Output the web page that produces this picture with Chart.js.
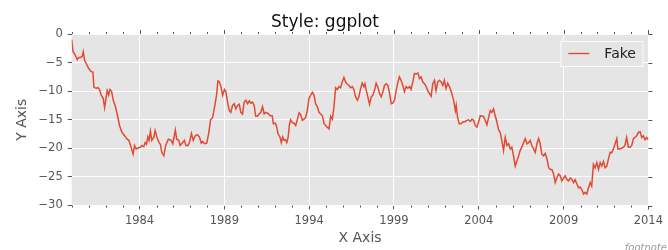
<!DOCTYPE html>
<html><head><meta charset="utf-8">
<script src="https://cdn.jsdelivr.net/npm/chart.js@4"></script>
<style>html,body{margin:0;padding:0;background:#fff;}#wrap{width:668px;height:250px;}</style>
</head><body><div id="wrap"><canvas id="c" width="668" height="250"></canvas></div>
<script>
const titleText = 'Style: ggplot';
const xTitle = 'X Axis';
const yTitle = 'Y Axis';
const footnoteText = 'footnote';
const seriesName = 'Fake';
const xTickYears = [1984, 1989, 1994, 1999, 2004, 2009, 2014];
const yTicks = [0, -5, -10, -15, -20, -25, -30];

const years = [
1980.00,1980.08,1980.21,1980.33,1980.41,1980.53,1980.62,1980.68,1980.76,1980.86,
1981.00,1981.12,1981.25,1981.31,1981.43,1981.55,1981.65,1981.74,1981.86,1981.94,
1982.02,1982.09,1982.18,1982.25,1982.35,1982.45,1982.56,1982.68,1982.82,1982.96,
1983.12,1983.27,1983.37,1983.47,1983.56,1983.62,1983.70,1983.80,1983.94,1984.06,
1984.13,1984.25,1984.33,1984.41,1984.49,1984.56,1984.64,1984.72,1984.84,1984.92,
1985.03,1985.15,1985.23,1985.31,1985.43,1985.54,1985.70,1985.86,1985.96,1986.11,
1986.19,1986.31,1986.39,1986.48,1986.64,1986.74,1986.86,1986.94,1987.06,1987.17,
1987.29,1987.41,1987.53,1987.64,1987.72,1987.84,1987.96,1988.07,1988.19,1988.31,
1988.42,1988.54,1988.62,1988.70,1988.80,1988.90,1989.01,1989.09,1989.19,1989.29,
1989.38,1989.48,1989.58,1989.68,1989.78,1989.88,1989.97,1990.07,1990.17,1990.27,
1990.37,1990.47,1990.56,1990.66,1990.76,1990.85,1990.95,1991.05,1991.15,1991.25,
1991.35,1991.44,1991.58,1991.70,1991.82,1991.89,1992.01,1992.09,1992.17,1992.29,
1992.36,1992.44,1992.52,1992.60,1992.68,1992.76,1992.84,1992.91,1993.01,1993.11,
1993.21,1993.31,1993.41,1993.50,1993.60,1993.70,1993.79,1993.89,1993.99,1994.09,
1994.19,1994.29,1994.38,1994.48,1994.58,1994.68,1994.78,1994.88,1994.97,1995.07,
1995.17,1995.27,1995.37,1995.46,1995.56,1995.66,1995.76,1995.85,1995.95,1996.05,
1996.15,1996.25,1996.35,1996.45,1996.54,1996.64,1996.74,1996.84,1996.93,1997.03,
1997.13,1997.23,1997.29,1997.37,1997.46,1997.56,1997.66,1997.76,1997.85,1997.95,
1998.05,1998.15,1998.25,1998.35,1998.44,1998.54,1998.64,1998.74,1998.84,1998.93,
1999.03,1999.13,1999.23,1999.32,1999.42,1999.52,1999.62,1999.72,1999.82,1999.92,
2000.01,2000.11,2000.21,2000.31,2000.41,2000.50,2000.60,2000.70,2000.80,2000.90,
2000.99,2001.09,2001.19,2001.29,2001.39,2001.48,2001.58,2001.68,2001.78,2001.88,
2001.97,2002.07,2002.17,2002.27,2002.38,2002.52,2002.62,2002.67,2002.75,2002.85,
2002.95,2003.07,2003.20,2003.30,2003.40,2003.50,2003.60,2003.70,2003.79,2003.89,
2003.99,2004.09,2004.19,2004.28,2004.38,2004.48,2004.58,2004.68,2004.77,2004.87,
2004.97,2005.07,2005.17,2005.26,2005.36,2005.46,2005.56,2005.66,2005.76,2005.86,
2005.95,2006.05,2006.15,2006.25,2006.35,2006.44,2006.54,2006.64,2006.74,2006.84,
2006.94,2007.03,2007.13,2007.23,2007.33,2007.43,2007.53,2007.62,2007.72,2007.82,
2007.92,2008.02,2008.12,2008.21,2008.31,2008.41,2008.51,2008.60,2008.70,2008.80,
2008.90,2009.00,2009.09,2009.19,2009.29,2009.39,2009.49,2009.59,2009.68,2009.78,
2009.88,2009.98,2010.08,2010.18,2010.27,2010.37,2010.47,2010.57,2010.66,2010.76,
2010.86,2010.96,2011.06,2011.16,2011.25,2011.35,2011.45,2011.55,2011.65,2011.75,
2011.84,2011.94,2012.04,2012.14,2012.20,2012.30,2012.43,2012.53,2012.62,2012.72,
2012.82,2012.92,2013.02,2013.12,2013.21,2013.31,2013.41,2013.51,2013.61,2013.71,
2013.80,2013.90,2014.00
];

const values = [
-1.0,-3.1,-3.7,-4.5,-4.1,-4.1,-3.9,-3.1,-4.6,-5.2,
-6.0,-6.5,-6.7,-9.3,-9.5,-9.4,-9.8,-10.7,-11.3,-12.9,
-11.3,-9.9,-10.7,-9.7,-10.0,-11.6,-12.5,-14.0,-16.0,-17.2,
-17.8,-18.4,-18.6,-19.5,-20.4,-21.0,-19.5,-20.1,-19.9,-19.8,
-19.5,-19.7,-19.0,-19.3,-18.0,-18.6,-17.0,-18.6,-18.1,-16.9,
-18.1,-19.0,-19.3,-20.7,-21.3,-19.5,-18.4,-18.6,-19.2,-16.8,
-18.4,-18.6,-19.5,-19.2,-18.6,-19.5,-19.5,-19.0,-17.4,-18.6,
-17.8,-17.6,-18.0,-19.1,-18.8,-19.2,-19.1,-17.5,-15.0,-14.6,
-12.8,-10.7,-8.2,-8.3,-9.2,-10.7,-9.7,-10.1,-11.9,-13.4,
-13.7,-12.5,-12.2,-13.1,-12.5,-12.3,-13.7,-14.0,-11.9,-11.6,
-12.2,-11.7,-12.1,-11.9,-12.5,-14.4,-14.4,-14.0,-13.7,-12.7,
-14.0,-13.7,-13.9,-14.3,-14.3,-15.7,-15.6,-16.3,-17.5,-18.1,
-19.0,-18.0,-18.6,-18.5,-19.0,-18.1,-15.8,-15.0,-15.5,-15.6,
-16.0,-14.9,-13.8,-14.1,-15.1,-14.9,-14.6,-13.4,-11.3,-10.7,
-10.2,-10.7,-12.2,-12.7,-13.7,-14.0,-14.3,-15.7,-16.0,-16.3,
-16.6,-14.4,-14.9,-12.8,-9.4,-9.7,-9.2,-9.4,-8.4,-7.6,
-8.4,-8.8,-9.0,-9.4,-9.2,-9.7,-11.0,-11.6,-11.0,-9.6,
-8.6,-9.2,-8.7,-9.9,-11.0,-12.3,-11.0,-10.7,-9.9,-8.6,
-9.3,-10.4,-11.0,-10.1,-9.0,-8.7,-9.0,-10.4,-12.2,-12.1,
-11.6,-9.9,-8.5,-7.5,-8.1,-9.0,-10.1,-9.2,-9.5,-9.2,
-9.7,-8.4,-6.9,-7.0,-6.8,-7.8,-7.5,-8.4,-8.7,-9.2,
-9.9,-10.4,-10.9,-8.7,-8.1,-9.9,-8.4,-8.1,-8.4,-9.0,
-8.1,-9.5,-8.6,-9.2,-10.1,-11.6,-13.4,-12.5,-14.6,-15.7,
-15.7,-15.4,-15.3,-15.1,-15.0,-15.3,-14.9,-15.1,-16.0,-16.3,
-15.4,-14.3,-14.4,-14.4,-15.1,-15.9,-14.6,-13.4,-13.7,-13.1,
-14.3,-15.4,-16.8,-17.2,-18.6,-20.4,-18.1,-19.5,-19.2,-20.1,
-19.8,-21.3,-23.1,-22.2,-21.3,-20.4,-19.8,-19.0,-18.3,-19.2,
-19.0,-18.6,-19.5,-20.1,-20.7,-19.2,-18.3,-19.2,-21.0,-21.3,
-20.9,-21.8,-23.4,-23.7,-23.7,-24.5,-26.0,-25.2,-24.5,-24.8,
-25.7,-25.2,-24.8,-25.4,-25.7,-25.2,-25.4,-26.0,-25.5,-26.2,
-26.9,-26.8,-27.2,-28.0,-27.7,-28.0,-26.9,-26.0,-26.6,-22.8,
-23.4,-22.5,-23.7,-22.5,-23.1,-22.3,-23.4,-23.1,-21.8,-20.7,
-20.8,-20.1,-19.2,-18.3,-20.1,-20.1,-20.0,-19.8,-19.5,-18.1,
-19.8,-19.8,-19.5,-18.3,-18.1,-17.8,-17.2,-17.1,-18.1,-17.8,
-18.5,-18.1,-18.5
];

const LINE_COLOR = '#E24A33';
const PANEL = '#E5E5E5';
const TEXT_GRAY = '#555555';
const FONT = "'DejaVu Sans', sans-serif";
Chart.defaults.font.family = FONT;

const n = Math.min(years.length, values.length);
const points = [];
for (let i = 0; i < n; i++) points.push({x: years[i], y: values[i]});

const fmtMinus = v => String(v).replace('-', '\u2212');

const panelPlugin = {
  id: 'panel',
  beforeDraw(chart) {
    const {ctx, chartArea: a} = chart;
    ctx.save();
    ctx.fillStyle = '#ffffff';
    ctx.fillRect(0, 0, chart.width, chart.height);
    ctx.fillStyle = PANEL;
    ctx.fillRect(a.left, a.top, a.right - a.left, a.bottom - a.top);
    ctx.restore();
  }
};

const extraTicksPlugin = {
  id: 'extraTicks',
  afterDraw(chart) {
    const {ctx, chartArea: a, scales: {x, y}} = chart;
    ctx.save();
    ctx.strokeStyle = TEXT_GRAY;
    ctx.lineWidth = 1;
    ctx.beginPath();
    for (let yr = Math.ceil(x.min); yr <= x.max; yr++) {
      const px = Math.round(x.getPixelForValue(yr)) + 0.5;
      const major = xTickYears.includes(yr);
      const len = major ? 4 : 2;
      ctx.moveTo(px, a.top); ctx.lineTo(px, a.top - len);
      if (!major) { ctx.moveTo(px, a.bottom); ctx.lineTo(px, a.bottom + len); }
    }
    yTicks.forEach(v => {
      const py = Math.round(y.getPixelForValue(v)) + 0.5;
      ctx.moveTo(a.right, py); ctx.lineTo(a.right + 4, py);
    });
    ctx.stroke();
    ctx.restore();
  }
};

const legendBoxPlugin = {
  id: 'legendBox',
  afterDraw(chart) {
    const {ctx, chartArea: a} = chart;
    const ds = chart.data.datasets[0];
    const w = 83, h = 26;
    const bx = a.right - 5 - w, by = a.top + 7;
    ctx.save();
    ctx.fillStyle = PANEL;
    ctx.fillRect(bx, by, w, h);
    ctx.strokeStyle = 'rgba(255,255,255,0.85)';
    ctx.lineWidth = 1;
    ctx.strokeRect(bx + 0.5, by + 0.5, w - 1, h - 1);
    const cy = by + h / 2 - 0.5;
    ctx.strokeStyle = ds.borderColor;
    ctx.lineWidth = 1.4;
    ctx.beginPath();
    ctx.moveTo(bx + 8, cy); ctx.lineTo(bx + 29, cy);
    ctx.stroke();
    ctx.fillStyle = '#222222';
    ctx.font = '14px ' + FONT;
    ctx.textBaseline = 'middle';
    ctx.textAlign = 'left';
    ctx.fillText(ds.label, bx + 44, cy + 0.5);
    ctx.restore();
  }
};

const footnotePlugin = {
  id: 'footnote',
  afterDraw(chart) {
    const {ctx} = chart;
    ctx.save();
    ctx.fillStyle = '#9a9a9a';
    ctx.font = 'italic 10px ' + FONT;
    ctx.textAlign = 'right';
    ctx.textBaseline = 'alphabetic';
    ctx.fillText(footnoteText, chart.width - 1, chart.height + 0.5);
    ctx.restore();
  }
};

new Chart(document.getElementById('c'), {
  type: 'line',
  data: {
    datasets: [{
      label: seriesName,
      data: points,
      borderColor: LINE_COLOR,
      backgroundColor: LINE_COLOR,
      borderWidth: 1.5,
      pointRadius: 0,
      tension: 0,
      fill: false
    }]
  },
  options: {
    responsive: false,
    animation: false,
    events: [],
    layout: {padding: {left: 0, right: 18, top: 0, bottom: 0}},
    plugins: {
      legend: {display: false},
      tooltip: {enabled: false},
      title: {
        display: true,
        text: titleText,
        color: '#111111',
        font: {size: 17, weight: 'normal', family: FONT},
        padding: {top: 12, bottom: 1.6}
      }
    },
    scales: {
      x: {
        type: 'linear',
        position: 'bottom',
        min: 1980,
        max: 2014,
        afterBuildTicks: s => { s.ticks = xTickYears.map(v => ({value: v})); },
        afterFit: s => { s.height = 44.5; },
        ticks: {
          color: TEXT_GRAY,
          font: {size: 11.5},
          padding: 5,
          maxRotation: 0,
          autoSkip: false,
          callback: v => String(v)
        },
        grid: {color: '#ffffff', lineWidth: 1, tickColor: TEXT_GRAY, tickLength: 4, drawTicks: true},
        border: {display: false},
        title: {display: true, text: xTitle, color: TEXT_GRAY, font: {size: 14}, padding: {top: 0, bottom: 2.8}}
      },
      y: {
        type: 'linear',
        min: -30,
        max: 0,
        afterBuildTicks: s => { s.ticks = yTicks.map(v => ({value: v})); },
        afterFit: s => { s.width = 71.7; },
        ticks: {
          color: TEXT_GRAY,
          font: {size: 11.5},
          padding: 5,
          callback: v => fmtMinus(v)
        },
        grid: {color: '#ffffff', lineWidth: 1, tickColor: TEXT_GRAY, tickLength: 4, drawTicks: true},
        border: {display: false},
        title: {display: true, text: yTitle, color: TEXT_GRAY, font: {size: 14}, padding: {top: 14, bottom: 0}}
      }
    }
  },
  plugins: [panelPlugin, extraTicksPlugin, legendBoxPlugin, footnotePlugin]
});
</script>
</body></html>
